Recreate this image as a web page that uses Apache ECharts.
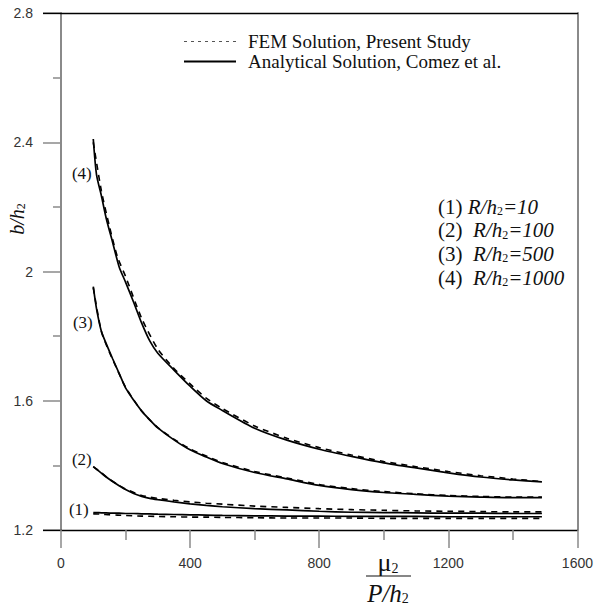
<!DOCTYPE html>
<html><head><meta charset="utf-8">
<script src="https://cdn.jsdelivr.net/npm/echarts@6/dist/echarts.min.js"></script>
<style>html,body{margin:0;padding:0;background:#fff}#c{width:596px;height:609px}</style>
</head><body><div id="c"></div>
<script>
// ---- data ----
const xTicks = [0, 400, 800, 1200, 1600];
const yTicks = [1.2, 1.6, 2.0, 2.4, 2.8];

const xAnalytical = [100,110,125,140,160,180,200,225,250,275,300,350,400,450,500,600,700,800,900,1000,1100,1200,1300,1400,1490];
const analytical1 = [1.254,1.254,1.253,1.253,1.252,1.252,1.251,1.251,1.250,1.250,1.249,1.248,1.247,1.246,1.245,1.244,1.243,1.243,1.242,1.242,1.242,1.241,1.241,1.241,1.241];
const analytical2 = [1.396,1.388,1.376,1.364,1.350,1.337,1.325,1.313,1.304,1.298,1.294,1.287,1.281,1.276,1.272,1.266,1.262,1.258,1.255,1.254,1.253,1.252,1.252,1.251,1.251];
const analytical3 = [1.953,1.885,1.815,1.777,1.730,1.685,1.640,1.602,1.568,1.541,1.516,1.479,1.448,1.426,1.406,1.378,1.358,1.338,1.325,1.316,1.310,1.305,1.302,1.300,1.300];
const analytical4 = [2.410,2.300,2.235,2.165,2.090,2.015,1.967,1.905,1.840,1.785,1.747,1.695,1.645,1.600,1.570,1.515,1.478,1.450,1.428,1.408,1.392,1.377,1.364,1.355,1.349];

const xFEM = [100,125,150,175,200,250,300,350,400,450,500,600,700,800,900,1000,1100,1200,1300,1400,1490];
const fem1 = [1.250,1.249,1.247,1.246,1.245,1.243,1.242,1.241,1.240,1.240,1.239,1.238,1.237,1.237,1.237,1.236,1.236,1.236,1.236,1.236,1.236];
const fem2 = [1.396,1.377,1.357,1.341,1.327,1.307,1.298,1.292,1.287,1.283,1.280,1.274,1.270,1.266,1.263,1.261,1.259,1.258,1.257,1.256,1.256];
const fem3 = [1.950,1.815,1.750,1.695,1.642,1.568,1.517,1.481,1.451,1.429,1.409,1.381,1.361,1.341,1.328,1.319,1.312,1.307,1.304,1.302,1.302];
const fem4 = [2.400,2.250,2.140,2.045,1.985,1.855,1.760,1.700,1.652,1.608,1.576,1.522,1.484,1.455,1.432,1.412,1.396,1.381,1.368,1.358,1.350];

const curveTags = ['(1)', '(2)', '(3)', '(4)'];
const ratioValues = ['10', '100', '500', '1000'];
const femName = 'FEM Solution, Present Study';
const anaName = 'Analytical Solution, Comez et al.';

// ---- chart ----
const SERIF = "'Liberation Serif','Times New Roman',serif";
const SANS = "'Liberation Sans',Arial,sans-serif";
const pairs = (xs, ys) => xs.map((x, i) => [x, ys[i]]);
const anaSets = [analytical1, analytical2, analytical3, analytical4];
const femSets = [fem1, fem2, fem3, fem4];

const series = [];
femSets.forEach(ys => series.push({
  name: femName, type: 'line', data: pairs(xFEM, ys), symbol: 'none', smooth: 0.25,
  itemStyle: { color: '#000' },
  lineStyle: { color: '#000', width: 1.6, type: [6, 5] }, z: 3
}));
anaSets.forEach(ys => series.push({
  name: anaName, type: 'line', data: pairs(xAnalytical, ys), symbol: 'none', smooth: 0.25,
  itemStyle: { color: '#000' },
  lineStyle: { color: '#000', width: 1.7, type: 'solid' }, z: 4
}));
// curve tags (1)-(4) placed at the start of each analytical curve
const tagOffsets = [[0, -3], [0, -7], [0, 36], [0, 34]];
const tagDistance = [4, 1, 0, 1];
series.push({
  name: 'tags', type: 'scatter', symbol: 'circle', symbolSize: 1, silent: true,
  itemStyle: { color: 'rgba(0,0,0,0)' },
  data: anaSets.map((ys, i) => ({
    value: [xAnalytical[0], ys[0]],
    label: { show: true, position: 'left', formatter: curveTags[i], offset: tagOffsets[i], distance: tagDistance[i],
      fontFamily: SERIF, fontSize: 17, color: '#111', opacity: 1 }
  })),
  z: 5
});

const sub = { fontSize: 12, lineHeight: 8, verticalAlign: 'bottom', fontFamily: SERIF, color: '#333' };
const graphics = [];
ratioValues.forEach((v, i) => {
  const gap = i === 0 ? ' ' : '  ';
  graphics.push({
    type: 'text', left: 438, top: 196 + i * 23.7,
    style: {
      text: curveTags[i] + gap + '{i|R/h}{s|2}{i|=' + v + '}',
      fontFamily: SERIF, fontSize: 21, fill: '#111',
      rich: { i: { fontStyle: 'italic', fontFamily: SERIF, fontSize: 21 }, s: sub }
    }
  });
});
// y axis title
graphics.push({
  type: 'text', x: 17, y: 219, rotation: Math.PI / 2,
  style: { text: '{i|b/h}{s|2}', align: 'center', verticalAlign: 'middle', fontFamily: SERIF, fontSize: 20, fill: '#111',
    rich: { i: { fontStyle: 'italic', fontFamily: SERIF, fontSize: 20 }, s: sub } }
});
// x axis title (fraction)
graphics.push({
  type: 'text', x: 388, y: 562,
  style: { text: 'μ{s|2}', align: 'center', verticalAlign: 'middle', fontFamily: SERIF, fontSize: 26, fill: '#111',
    rich: { s: { fontSize: 14, lineHeight: 8, verticalAlign: 'bottom', fontFamily: SERIF, color: '#333' } } }
});
graphics.push({ type: 'line', shape: { x1: 366, y1: 576, x2: 411, y2: 576 }, style: { stroke: '#111', lineWidth: 1.2 } });
graphics.push({
  type: 'text', x: 388, y: 593,
  style: { text: '{i|P/h}{s|2}', align: 'center', verticalAlign: 'middle', fontFamily: SERIF, fontSize: 25, fill: '#111',
    rich: { i: { fontStyle: 'italic', fontFamily: SERIF, fontSize: 25 }, s: { fontSize: 14, lineHeight: 8, verticalAlign: 'bottom', fontFamily: SERIF, color: '#333' } } }
});

const GRAY = '#8a8a8a';
const xMin = xTicks[0], xMax = xTicks[xTicks.length - 1], xInt = xTicks[1] - xTicks[0];
const yMin = yTicks[0], yMax = yTicks[yTicks.length - 1], yInt = +(yTicks[1] - yTicks[0]).toFixed(6);

const chart = echarts.init(document.getElementById('c'), null, { renderer: 'svg' });
chart.setOption({
  animation: false,
  backgroundColor: '#fff',
  grid: { left: 61, right: 18, top: 13, bottom: 79 },
  legend: {
    orient: 'vertical', left: 178, top: 27, itemWidth: 52, itemHeight: 10, itemGap: 1,
    textStyle: { fontFamily: SERIF, fontSize: 19, color: '#111', lineHeight: 18, padding: [0, 0, 0, 7] },
    itemStyle: { opacity: 0 },
    data: [
      { name: femName, itemStyle: { opacity: 0 }, lineStyle: { color: '#555', width: 1, type: [3, 4] } },
      { name: anaName, itemStyle: { opacity: 0 }, lineStyle: { color: '#000', width: 2, type: 'solid' } }
    ],
    selectedMode: false
  },
  xAxis: [
    { type: 'value', position: 'bottom', min: xMin, max: xMax, interval: xInt,
      axisLine: { show: true, onZero: false, lineStyle: { color: '#000', width: 1.3 } },
      axisTick: { show: true, length: 18, lineStyle: { color: GRAY, width: 1.5 } },
      minorTick: { show: true, splitNumber: 2, length: 10, lineStyle: { color: GRAY, width: 1.5 } },
      splitLine: { show: false },
      axisLabel: { margin: 26, fontFamily: SANS, fontSize: 14, color: '#333', formatter: v => String(v) } },
    { type: 'value', position: 'top', min: xMin, max: xMax, interval: xInt,
      axisLine: { show: true, onZero: false, lineStyle: { color: '#000', width: 1.3 } },
      axisTick: { show: false }, axisLabel: { show: false }, splitLine: { show: false } }
  ],
  yAxis: [
    { type: 'value', position: 'left', min: yMin, max: yMax, interval: yInt,
      axisLine: { show: true, onZero: false, lineStyle: { color: GRAY, width: 2 } },
      axisTick: { show: true, length: 18, lineStyle: { color: GRAY, width: 1.5 } },
      minorTick: { show: true, splitNumber: 2, length: 8, lineStyle: { color: GRAY, width: 1.5 } },
      splitLine: { show: false },
      axisLabel: { margin: 28, fontFamily: SANS, fontSize: 14, color: '#333', formatter: v => String(+v.toFixed(1)) } },
    { type: 'value', position: 'right', min: yMin, max: yMax, interval: yInt,
      axisLine: { show: true, onZero: false, lineStyle: { color: GRAY, width: 2 } },
      axisTick: { show: false }, axisLabel: { show: false }, splitLine: { show: false } },
    { type: 'value', position: 'left', min: yMin, max: yMax, interval: +(yMax - yMin).toFixed(6),
      axisLine: { show: false }, axisTick: { show: true, length: 18, lineStyle: { color: '#000', width: 1.3 } },
      axisLabel: { show: false }, splitLine: { show: false } }
  ],
  series: series,
  graphic: graphics
});
</script></body></html>
